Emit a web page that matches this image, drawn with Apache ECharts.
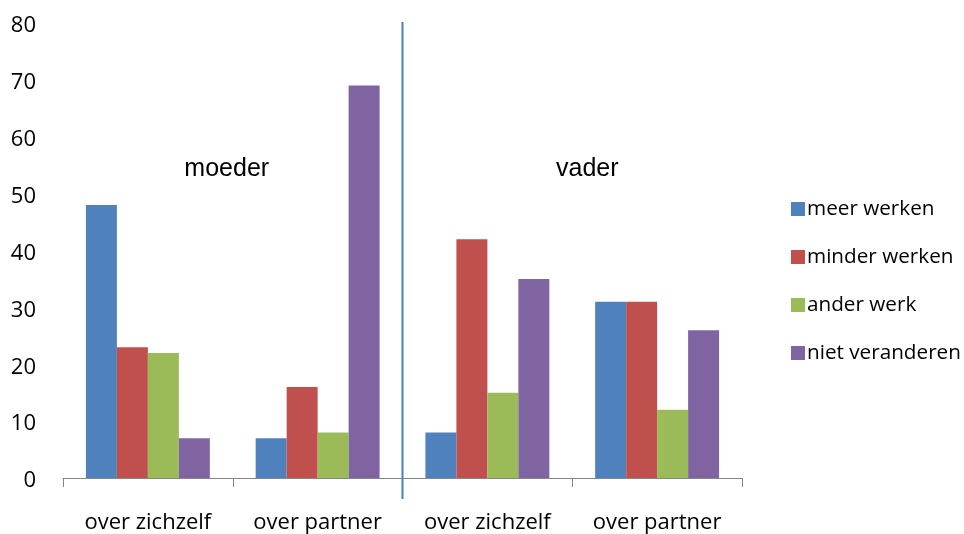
<!DOCTYPE html>
<html>
<head>
<meta charset="utf-8">
<script src="https://cdn.jsdelivr.net/npm/echarts@6/dist/echarts.min.js"></script>
<style>html,body{margin:0;padding:0;background:#fff;}#c{width:964px;height:534px;}</style>
</head>
<body>
<div id="c"></div>
<script>
var categories = ['over zichzelf', 'over partner', 'over zichzelf', 'over partner'];
var groupLabels = ['moeder', 'vader'];
var meerWerken = [48, 7, 8, 31];
var minderWerken = [23, 16, 42, 31];
var anderWerk = [22, 8, 15, 12];
var nietVeranderen = [7, 69, 35, 26];
var seriesNames = ['meer werken', 'minder werken', 'ander werk', 'niet veranderen'];
var seriesColors = ['#4F81BD', '#C0504D', '#9BBB59', '#8064A2'];
var seriesData = [meerWerken, minderWerken, anderWerk, nietVeranderen];

var chart = echarts.init(document.getElementById('c'));
var font = 'Open Sans';
var option = {
  animation: false,
  backgroundColor: '#fff',
  grid: { left: 63, right: 222, top: 23, bottom: 55, containLabel: false },
  legend: {
    orient: 'vertical', left: 786, top: 190,
    itemWidth: 14, itemHeight: 14, itemGap: 20,
    icon: 'rect',
    textStyle: { fontFamily: font, fontSize: 20.7, color: '#000', padding: [0,0,0,-3], lineHeight: 28 },
    data: seriesNames
  },
  xAxis: {
    type: 'category', data: categories,
    axisLine: { lineStyle: { color: '#868686', width: 1 } },
    axisTick: { show: true, length: 9, lineStyle: { color: '#868686' } },
    axisLabel: { fontFamily: font, fontSize: 22, color: '#000', margin: 34, interval: 0 }
  },
  yAxis: {
    type: 'value', min: 0, max: 80, interval: 10,
    axisLine: { show: false }, axisTick: { show: false }, splitLine: { show: false },
    axisLabel: {
      margin: 27,
      formatter: '{v|{value}}',
      rich: { v: { fontFamily: font, fontSize: 22, color: '#000', padding: [6, 0, 0, 0] } }
    }
  },
  series: seriesData.map(function (d, i) {
    return {
      name: seriesNames[i], type: 'bar', data: d,
      barGap: '0%', barCategoryGap: '27%',
      itemStyle: { color: seriesColors[i] }
    };
  })
};
chart.setOption(option);

function drawDecor() {
  var c0 = chart.convertToPixel({ xAxisIndex: 0 }, 0);
  var c1 = chart.convertToPixel({ xAxisIndex: 0 }, 1);
  var c2 = chart.convertToPixel({ xAxisIndex: 0 }, 2);
  var c3 = chart.convertToPixel({ xAxisIndex: 0 }, 3);
  var yTop = chart.convertToPixel({ yAxisIndex: 0 }, 80);
  var y0 = chart.convertToPixel({ yAxisIndex: 0 }, 0);
  var yLab = chart.convertToPixel({ yAxisIndex: 0 }, 54.3);
  var sep = (c1 + c2) / 2;
  chart.setOption({
    graphic: [
      { type: 'line', shape: { x1: sep, y1: yTop - 1, x2: sep, y2: y0 + 21 }, style: { stroke: '#4A7EBB', lineWidth: 2 }, z: 10 },
      { type: 'text', x: (c0 + c1) / 2 - 6, y: yLab, style: { text: groupLabels[0], font: '25px "Liberation Sans", Arial', fill: '#000', textAlign: 'center', textVerticalAlign: 'middle' } },
      { type: 'text', x: (c2 + c3) / 2 + 15, y: yLab, style: { text: groupLabels[1], font: '25px "Liberation Sans", Arial', fill: '#000', textAlign: 'center', textVerticalAlign: 'middle' } }
    ]
  });
}
drawDecor();
</script>
</body>
</html>
